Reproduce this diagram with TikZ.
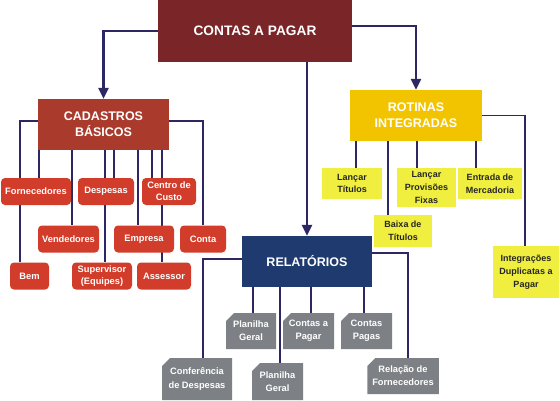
\documentclass[tikz,border=0pt]{standalone}
\usepackage{fontspec}
\setmainfont{Liberation Sans}
\usepackage{tikz}
\usetikzlibrary{arrows.meta,positioning,shapes.misc,backgrounds}

\definecolor{mainred}{RGB}{122,38,40}
\definecolor{cadred}{RGB}{170,58,44}
\definecolor{itemred}{RGB}{210,60,42}
\definecolor{rotgold}{RGB}{242,196,0}
\definecolor{itemyel}{RGB}{240,238,62}
\definecolor{relnavy}{RGB}{30,58,110}
\definecolor{itemgray}{RGB}{125,128,132}
\definecolor{linkcol}{RGB}{45,40,100}

\begin{document}
\begin{tikzpicture}[
        x=1pt, y=-1pt,
        topbox/.style={rectangle, text=white, align=center, inner sep=2pt, minimum height=51pt, font=\bfseries\fontsize{12.5}{16}\selectfont},
        redbox/.style={rectangle, fill=itemred, rounded corners=4pt, text=white, align=center, inner sep=1pt, minimum height=27pt, font=\bfseries\fontsize{9.3}{12.3}\selectfont},
        yelbox/.style={rectangle, fill=itemyel, text=black!85, align=center, inner sep=1pt, minimum height=31pt, font=\bfseries\fontsize{9}{12.8}\selectfont},
        graybox/.style={chamfered rectangle, chamfered rectangle corners=north west, chamfered rectangle xsep=4pt, chamfered rectangle ysep=4pt, fill=itemgray, text=white, align=center, inner sep=1pt, minimum height=36pt, font=\bfseries\fontsize{9.3}{13.3}\selectfont},
        link/.style={draw=linkcol, line width=1.3pt},
        arr/.style={-{Triangle[length=11pt, width=10pt]}, draw=linkcol, line width=2.6pt},
    ]
    \useasboundingbox (0,0) rectangle (560,400);

    % main blocks
    \node[topbox, fill=mainred, minimum width=194pt, minimum height=62pt, font=\bfseries\fontsize{13.7}{16}\selectfont] (main) at (255,31) {CONTAS A PAGAR};
    \node[topbox, fill=cadred, minimum width=131pt]  (cad) at (103.5,124.5) {CADASTROS\\BÁSICOS};
    \node[topbox, fill=rotgold, minimum width=132pt] (rot) at (416,115.5)   {ROTINAS\\INTEGRADAS};
    \node[topbox, fill=relnavy, minimum width=130pt] (rel) at (307,261.5)   {RELATÓRIOS};

    % cadastros
    \node[redbox, minimum width=70pt] (forn)  at (36,191.5)  {Fornecedores};
    \node[redbox, minimum width=56pt] (desp)  at (106,191.5) {Despesas};
    \node[redbox, minimum width=54pt] (cc)    at (169,191.5) {Centro de\\Custo};
    \node[redbox, minimum width=61pt] (vend)  at (68.5,239)  {Vendedores};
    \node[redbox, minimum width=60pt] (emp)   at (144,239)   {Empresa};
    \node[redbox, minimum width=46pt] (conta) at (203,239)   {Conta};
    \node[redbox, minimum width=39pt] (bem)   at (29.5,276)  {Bem};
    \node[redbox, minimum width=60pt] (sup)   at (102,276)   {Supervisor\\(Equipes)};
    \node[redbox, minimum width=54pt] (ass)   at (164,276)   {Assessor};

    % rotinas
    \node[yelbox, minimum width=60pt] (lt) at (352,183.5) {Lançar\\Títulos};
    \node[yelbox, minimum width=59pt, minimum height=39pt] (lp) at (426.5,187.5) {Lançar\\Provisões\\Fixas};
    \node[yelbox, minimum width=64pt] (ent) at (490,183.5) {Entrada de\\Mercadoria};
    \node[yelbox, minimum width=58pt, minimum height=32pt] (bx) at (403,231) {Baixa de\\Títulos};
    \node[yelbox, minimum width=66pt, minimum height=52pt] (integ) at (526,272) {Integrações\\Duplicatas a\\Pagar};

    % relatorios
    \node[graybox, minimum width=50pt] (pg1)  at (251,331)   {Planilha\\Geral};
    \node[graybox, minimum width=51pt] (cpag) at (308.5,331) {Contas a\\Pagar};
    \node[graybox, minimum width=51pt] (cpgs) at (366.5,331) {Contas\\Pagas};
    \node[graybox, minimum width=70pt, minimum height=42pt] (conf) at (197,379) {Conferência\\de Despesas};
    \node[graybox, minimum width=51pt, minimum height=37pt] (pg2)  at (277.5,381.5) {Planilha\\Geral};
    \node[graybox, minimum width=68pt] (relf) at (403,376) {Relação de\\Fornecedores};

    \begin{pgfonlayer}{background}
        \fill[white] (0,0) rectangle (560,400);
        \draw[arr] (main.west) -| (cad.north);
        \draw[arr] ([yshift=5pt]main.east) -| (rot.north);
        \draw[arr] (main.south -| rel.north) -- (rel.north);

        \draw[link] ([yshift=3.5pt]cad.west) -| (20,0 |- bem.north);
        \draw[link] (39,0 |- cad.south) -- (39,0 |- forn.north);
        \draw[link] (72,0 |- cad.south) -- (72,0 |- vend.north);
        \draw[link] (105,0 |- cad.south) -- (105,0 |- sup.north);
        \draw[link] (114,0 |- cad.south) -- (114,0 |- desp.north);
        \draw[link] (138,0 |- cad.south) -- (138,0 |- emp.north);
        \draw[link] (152,0 |- cad.south) -- (152,0 |- cc.north);
        \draw[link] (162,0 |- cad.south) -- (162,0 |- ass.north);
        \draw[link] ([yshift=3.5pt]cad.east) -| (conta.north);

        \draw[link] (356,0 |- rot.south) -- (356,0 |- lt.north);
        \draw[link] (388,0 |- rot.south) -- (388,0 |- bx.north);
        \draw[link] (417,0 |- rot.south) -- (417,0 |- lp.north);
        \draw[link] (476,0 |- rot.south) -- (476,0 |- ent.north);
        \draw[link] (rot.east) -| (525,0 |- integ.north);

        \draw[link] ([yshift=2.5pt]rel.west) -| (203,0 |- conf.north);
        \draw[link] (253,0 |- rel.south) -- (253,0 |- pg1.north);
        \draw[link] (280,0 |- rel.south) -- (280,0 |- pg2.north);
        \draw[link] (311,0 |- rel.south) -- (311,0 |- cpag.north);
        \draw[link] (364,0 |- rel.south) -- (364,0 |- cpgs.north);
        \draw[link] ([yshift=8.5pt]rel.east) -| (408,0 |- relf.north);
    \end{pgfonlayer}
\end{tikzpicture}
\end{document}
